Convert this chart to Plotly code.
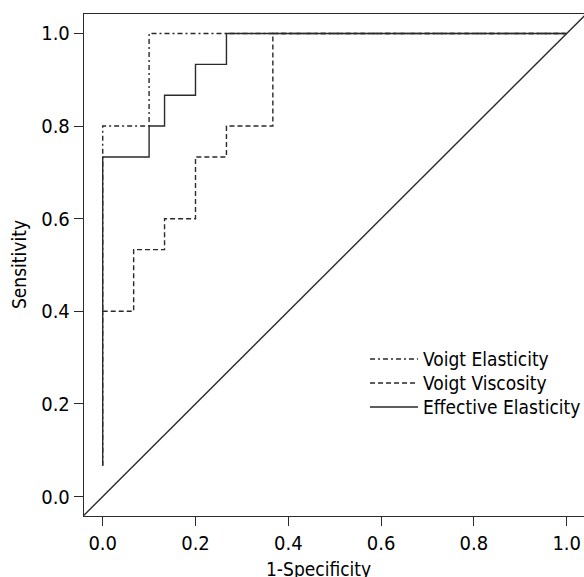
import plotly.graph_objects as go

# ROC vertices (1-Specificity, Sensitivity)
voigt_elasticity_fpr = [0.0, 0.0, 0.0, 0.1, 0.1, 1.0]
voigt_elasticity_tpr = [0.0667, 0.7333, 0.8, 0.8, 1.0, 1.0]

voigt_viscosity_fpr = [0.0, 0.0667, 0.0667, 0.1333, 0.1333, 0.2, 0.2, 0.2667, 0.2667, 0.3667, 0.3667, 1.0]
voigt_viscosity_tpr = [0.4, 0.4, 0.5333, 0.5333, 0.6, 0.6, 0.7333, 0.7333, 0.8, 0.8, 1.0, 1.0]

effective_elasticity_fpr = [0.0, 0.0, 0.1, 0.1, 0.1333, 0.1333, 0.2, 0.2, 0.2667, 0.2667, 1.0]
effective_elasticity_tpr = [0.0667, 0.7333, 0.7333, 0.8, 0.8, 0.8667, 0.8667, 0.9333, 0.9333, 1.0, 1.0]

chance_line = [-0.1, 1.1]

tick_vals = [0.0, 0.2, 0.4, 0.6, 0.8, 1.0]
tick_text = ["0.0", "0.2", "0.4", "0.6", "0.8", "1.0"]

series_names = ["Voigt Elasticity", "Voigt Viscosity", "Effective Elasticity"]
DASH_DOT = "5px,3px,2px,3px"
DASHED = "5px,3px"
series_dash = [DASH_DOT, DASHED, "solid"]

FONT = "DejaVu Sans Condensed, Liberation Sans, sans-serif"
INK = "#000000"
LINE = "#2a2a2a"
LW = 1.4

fig = go.Figure()
fig.add_trace(go.Scatter(x=chance_line, y=chance_line, mode="lines",
                         line=dict(color=LINE, width=LW), showlegend=False, name="Reference"))
for name, xs, ys, dash in [
    (series_names[0], voigt_elasticity_fpr, voigt_elasticity_tpr, series_dash[0]),
    (series_names[1], voigt_viscosity_fpr, voigt_viscosity_tpr, series_dash[1]),
    (series_names[2], effective_elasticity_fpr, effective_elasticity_tpr, series_dash[2]),
]:
    fig.add_trace(go.Scatter(x=xs, y=ys, mode="lines", name=name,
                             line=dict(color=LINE, width=LW, dash=dash), showlegend=False))

# manual legend
leg_rows = [0.3127, 0.265, 0.217]
for name, dash, yy in zip(series_names, series_dash, leg_rows):
    fig.add_shape(type="line", xref="paper", yref="paper", x0=0.572, x1=0.668, y0=yy, y1=yy,
                  line=dict(color=LINE, width=LW, dash=dash))
    fig.add_annotation(xref="paper", yref="paper", x=0.674, y=yy, text=name, showarrow=False,
                       xanchor="left", yanchor="middle", font=dict(family=FONT, size=19, color=INK))

# axis titles
fig.add_annotation(xref="paper", yref="paper", x=0.468, y=-0.079, text="1-Specificity", showarrow=False,
                   xanchor="center", yanchor="top", font=dict(family=FONT, size=19, color=INK))
fig.add_annotation(xref="paper", yref="paper", x=-0.13, y=0.5, text="Sensitivity", showarrow=False,
                   textangle=-90, xanchor="center", yanchor="middle",
                   font=dict(family=FONT, size=19, color=INK))

axis_common = dict(showline=True, linecolor=LINE, linewidth=LW, mirror=True, ticks="outside",
                   ticklen=9, tickwidth=LW, tickcolor=LINE, showgrid=False, zeroline=False,
                   tickvals=tick_vals, ticktext=tick_text, automargin=False,
                   tickfont=dict(family=FONT, size=20, color=INK))

fig.update_layout(
    width=584, height=577,
    margin=dict(l=84, r=0, t=14, b=61),
    paper_bgcolor="white", plot_bgcolor="white",
    showlegend=False,
    xaxis=dict(range=[-0.0403, 1.0373], **axis_common),
    yaxis=dict(range=[-0.042, 1.042], **axis_common),
)

fig.write_html(
    "out.html",
    config={"displayModeBar": False},
    default_width="584px", default_height="577px",
    post_script="document.body.style.margin='0';document.body.style.overflow='hidden';",
)
